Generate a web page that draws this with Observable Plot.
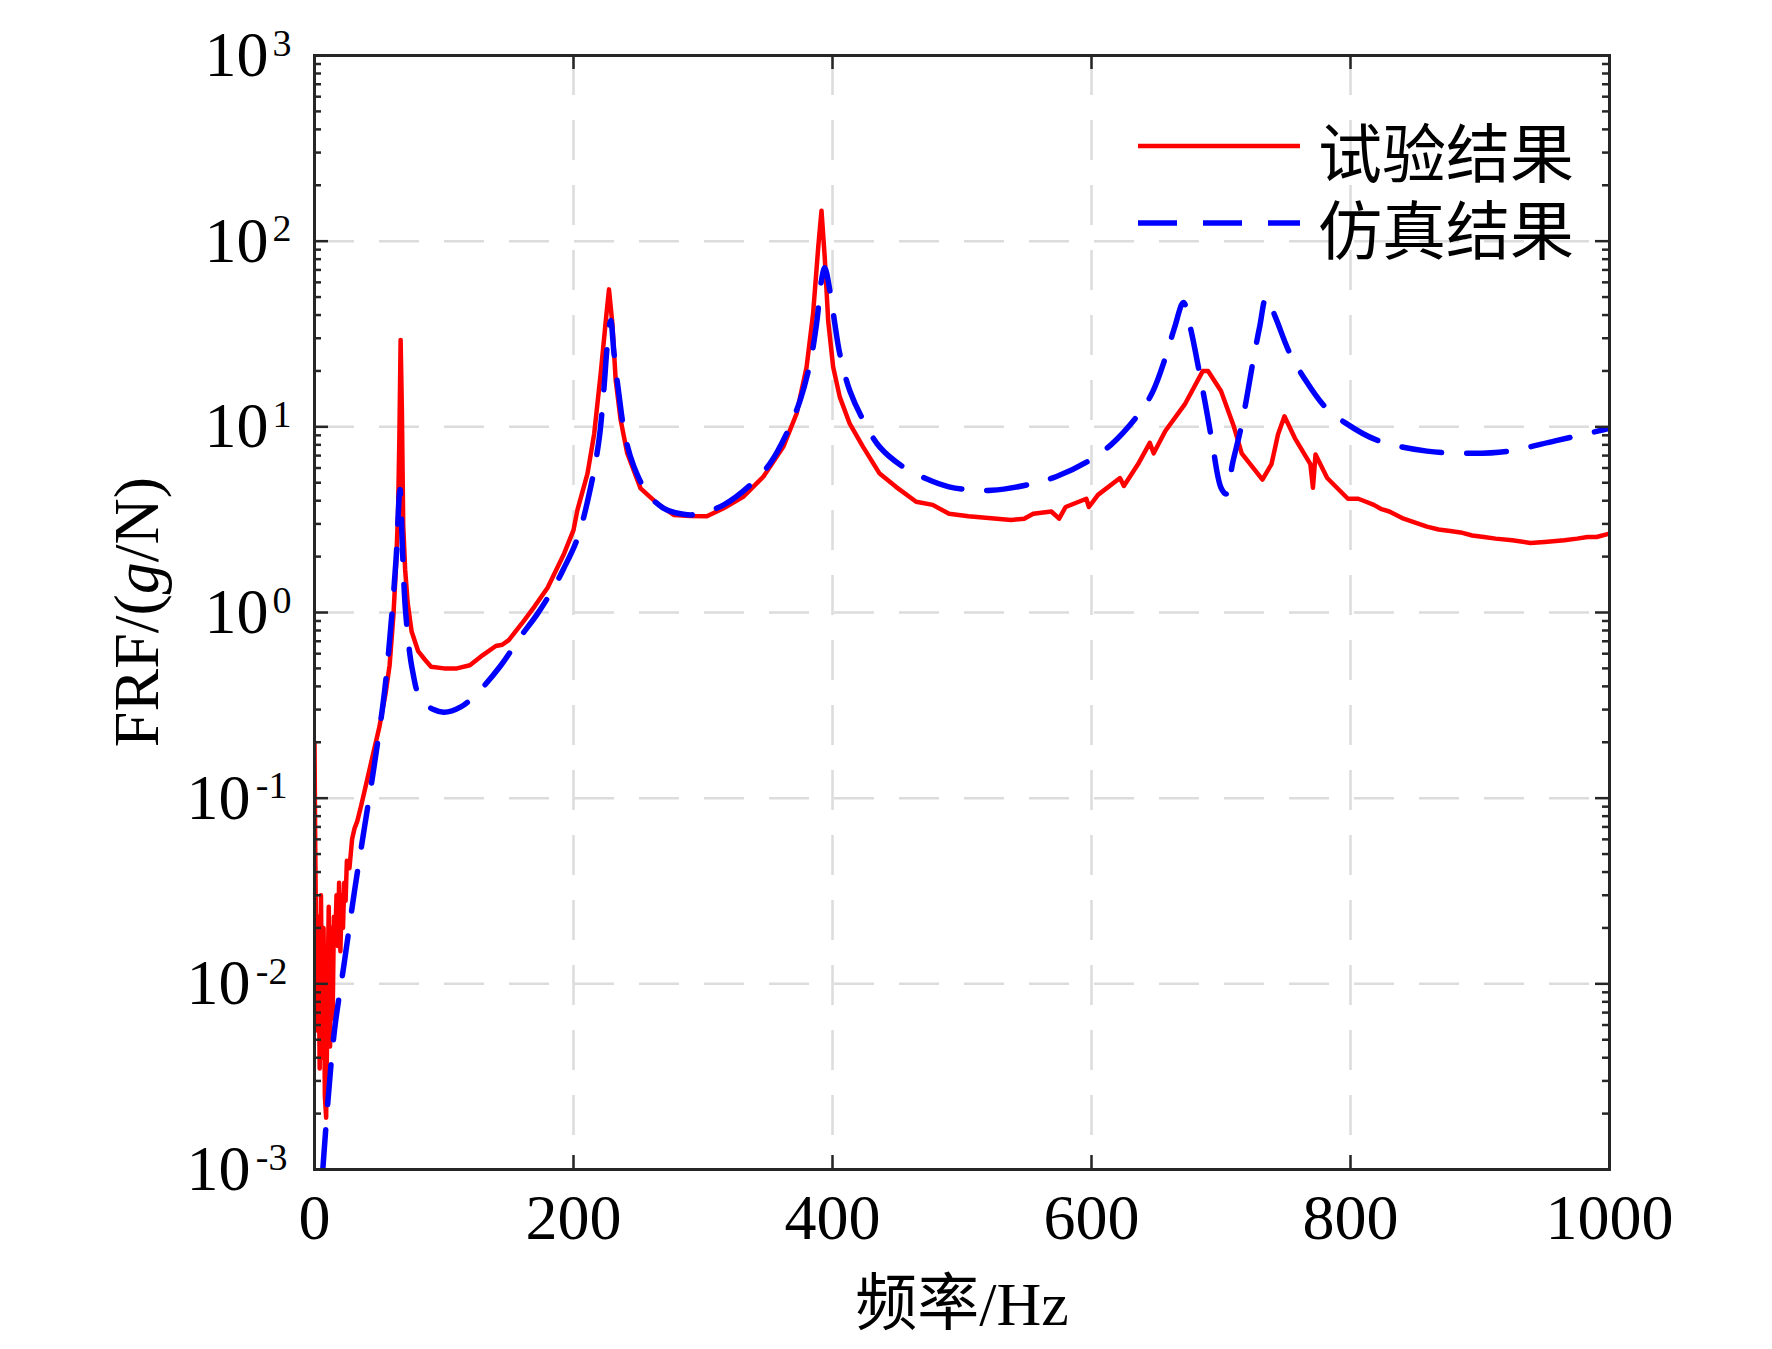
<!DOCTYPE html>
<html><head><meta charset="utf-8">
<script src="https://cdn.jsdelivr.net/npm/d3@7"></script>
<script src="https://cdn.jsdelivr.net/npm/@observablehq/plot@0.6"></script>
<style>body{margin:0;background:#fff}#chart{width:1772px;height:1349px}</style>
</head><body><div id="chart"></div>
<script>
// ---- data ----
const expFreq = [0,0.5,1,2,3,4,5,6,7,8,9,10,11,12,13,14,15,16,17,18,19,20,21,22,23,24,25,27,29,31,33,36,40,45,50,55,58,61,63,64.5,65.5,66.5,67.5,68.5,70,72,75,80,85,90,100,110,120,130,140,145,150,160,170,180,192.8,200,203,210.8,216,221,224.9,227.4,230,232.6,236.4,241.5,251.8,264.6,277.4,290,303,315.9,331,346.7,362,372.3,380,385,389,391.5,394,396.7,400.5,405.6,413.3,423.6,436.4,449,464.6,477.4,490,505,516,527,538,548,555,569,575,580,596,598,605,622,625,636,645,648,657,672,686,690,700,710,716,725,732,739,744,749,757,769,771,773,782,798,806,812,818,824,830,841,850,859,868,877,885,894,903,912,925,939,950,965,975,983,990,1000];
const expFRF = [0.2,0.065,0.026,0.0056,0.023,0.0035,0.030,0.004,0.020,0.0025,0.0019,0.008,0.026,0.0046,0.020,0.0065,0.023,0.017,0.030,0.016,0.035,0.015,0.030,0.020,0.035,0.028,0.046,0.042,0.060,0.069,0.075,0.091,0.12,0.17,0.24,0.37,0.52,0.98,1.8,3.4,8.4,29.4,12,2.96,1.7,1.12,0.79,0.62,0.56,0.51,0.50,0.50,0.52,0.59,0.66,0.67,0.71,0.87,1.08,1.36,2.08,2.78,3.56,5.6,9.2,19.4,37,55,36,17.8,10.9,7.2,4.66,3.87,3.35,3.31,3.30,3.64,4.2,5.4,7.8,11.8,21,40.6,93,146,82,37,21,14.5,10.4,7.8,5.6,4.75,3.95,3.8,3.4,3.3,3.25,3.2,3.15,3.2,3.4,3.5,3.2,3.7,4.1,3.7,4.3,5.3,4.8,6.3,8.2,7.2,9.5,13.2,20,20,15.6,10,7.2,6.0,5.2,6.3,9.1,11.4,8.7,6.3,4.7,7.1,5.3,4.1,4.1,3.95,3.8,3.6,3.5,3.2,3.05,2.9,2.8,2.75,2.7,2.6,2.55,2.5,2.45,2.37,2.4,2.45,2.5,2.55,2.55,2.66];
const simFreq = [6.4,10.3,15.4,23,31,38.5,46,54,59,63,66,68,70.5,75.6,82,92,100,113,126,144,159,172,185,192,203,213.3,219.7,223.6,226,228.7,231.3,235,240,246.7,257,269.7,285,295.4,316,336.4,351.8,364.6,375,382.6,387.7,391.5,394,398,401.8,405.6,413.3,423.6,436.4,454.4,472,490,504,523,552,573,597,615,636,647,657,664,671,677,682,688,693,700,704,709,716,725,730,735,742,753,764,780,796,820,859,894,922,958,997,1000];
const simFRF = [0.001,0.0023,0.0056,0.013,0.032,0.069,0.148,0.37,0.85,1.95,4.6,2.1,0.98,0.49,0.34,0.30,0.29,0.31,0.37,0.52,0.74,0.98,1.37,1.7,2.5,4.75,8.5,16.4,27,37.4,24.8,15.1,8.8,6.1,4.4,3.64,3.38,3.38,3.8,4.85,6.35,9.2,13.9,21.9,36,61.5,72,54,36,24.8,15.7,10.9,7.8,6.1,5.27,4.75,4.6,4.55,4.9,5.4,6.5,8.0,11.6,15.3,23.5,34,46.7,32.7,21.9,13.2,8.4,4.7,4.35,6.4,10.3,23,35,50,39,25,18.4,12.9,10.5,8.5,7.4,7.2,7.4,8.4,9.7,9.8];
const xTicks = [0,200,400,600,800,1000];
const yExponents = [-3,-2,-1,0,1,2,3];
const seriesNames = ["试验结果","仿真结果"];
const xLabel = "频率/Hz";
const yLabelParts = ["FRF/(", "g", "/N)"];

// ---- layout ----
const W = 1772, H = 1349, mL = 314, mR = 163, mT = 55, mB = 180;
const plotW = W - mL - mR, plotH = H - mT - mB;
const FONT = "'Liberation Serif','Times New Roman','Noto Sans CJK SC',serif";
const AX = "#262626";

const expData = expFreq.map((f, i) => ({f, v: expFRF[i]}));
const simData = simFreq.map((f, i) => ({f, v: simFRF[i]}));
const majorY = yExponents.map(e => 10 ** e);
const minorY = [];
for (const e of yExponents.slice(0, -1)) for (let k = 2; k <= 9; k++) minorY.push(k * 10 ** e);
const gridX = xTicks.slice(1, -1);
const gridY = majorY.slice(1, -1);
const posExp = yExponents.filter(e => e >= 0);
const negExp = yExponents.filter(e => e < 0);

const plot = Plot.plot({
  width: W, height: H,
  marginLeft: mL, marginRight: mR, marginTop: mT, marginBottom: mB,
  style: {fontFamily: FONT, background: "white", color: "black", overflow: "visible"},
  x: {domain: [0, 1000], axis: null},
  y: {type: "log", domain: [1e-3, 1e3], axis: null},
  marks: [
    Plot.ruleX(gridX, {x: d => d, stroke: "#dcdcdc", strokeWidth: 2.5, strokeDasharray: "40,25"}),
    Plot.ruleY(gridY, {y: d => d, stroke: "#dcdcdc", strokeWidth: 2.5, strokeDasharray: "40,25"}),
    Plot.line(expData, {x: "f", y: "v", stroke: "#ff0000", strokeWidth: 4.5, clip: true}),
    Plot.line(simData, {x: "f", y: "v", stroke: "#0000ff", strokeWidth: 5.5, strokeDasharray: "40,25", curve: "catmull-rom", clip: true}),
    // inward ticks
    Plot.tickX(xTicks, {x: d => d, insetTop: plotH - 14, stroke: AX, strokeWidth: 2.5}),
    Plot.tickX(xTicks, {x: d => d, insetBottom: plotH - 14, stroke: AX, strokeWidth: 2.5}),
    Plot.tickY(majorY, {y: d => d, insetRight: plotW - 14, stroke: AX, strokeWidth: 2.5}),
    Plot.tickY(majorY, {y: d => d, insetLeft: plotW - 14, stroke: AX, strokeWidth: 2.5}),
    Plot.tickY(minorY, {y: d => d, insetRight: plotW - 7, stroke: AX, strokeWidth: 2.5}),
    Plot.tickY(minorY, {y: d => d, insetLeft: plotW - 7, stroke: AX, strokeWidth: 2.5}),
    Plot.frame({stroke: AX, strokeWidth: 3}),
    // x tick labels
    Plot.text(xTicks, {x: d => d, frameAnchor: "bottom", lineAnchor: "top", dy: 24, fontSize: 64, text: d => String(d), fill: "black"}),
    // y tick labels 10^e
    Plot.text(posExp, {y: e => 10 ** e, frameAnchor: "left", textAnchor: "end", dx: -46, fontSize: 64, text: () => "10", fill: "black"}),
    Plot.text(posExp, {y: e => 10 ** e, frameAnchor: "left", textAnchor: "end", dx: -23, dy: -12, fontSize: 38, text: e => String(e), fill: "black"}),
    Plot.text(negExp, {y: e => 10 ** e, frameAnchor: "left", textAnchor: "end", dx: -64, fontSize: 64, text: () => "10", fill: "black"}),
    Plot.text(negExp, {y: e => 10 ** e, frameAnchor: "left", textAnchor: "end", dx: -27, dy: -12, fontSize: 38, text: e => "-" + String(-e), fill: "black"}),
    // x axis label
    Plot.text([xLabel], {frameAnchor: "bottom", lineAnchor: "middle", dy: 136, fontSize: 62, text: d => d, fill: "black"})
  ]
});

const svg = d3.select(plot);
// y axis label with italic g
const yl = svg.append("text")
  .attr("transform", `translate(136,${mT + plotH / 2}) rotate(-90)`)
  .attr("text-anchor", "middle").attr("dominant-baseline", "central")
  .attr("font-size", 64).attr("font-family", FONT).attr("fill", "black");
yl.append("tspan").text(yLabelParts[0]);
yl.append("tspan").attr("font-style", "italic").text(yLabelParts[1]);
yl.append("tspan").text(yLabelParts[2]);

// legend
const lg = svg.append("g").attr("font-family", "'Noto Sans CJK SC',sans-serif").attr("font-size", 64)
  .attr("text-anchor", "start");
const legendRows = [
  {name: seriesNames[0], stroke: "#ff0000", w: 4.5, dash: null, y: 146},
  {name: seriesNames[1], stroke: "#0000ff", w: 5.5, dash: "39,26", y: 223}
];
for (const r of legendRows) {
  lg.append("line").attr("x1", 1138).attr("x2", 1300).attr("y1", r.y).attr("y2", r.y)
    .attr("stroke", r.stroke).attr("stroke-width", r.w).attr("stroke-dasharray", r.dash);
  lg.append("text").attr("x", 1318).attr("y", r.y + 3).attr("dominant-baseline", "central")
    .attr("text-anchor", "start").attr("fill", "black").text(r.name);
}

document.getElementById("chart").appendChild(plot);
</script>
</body></html>
